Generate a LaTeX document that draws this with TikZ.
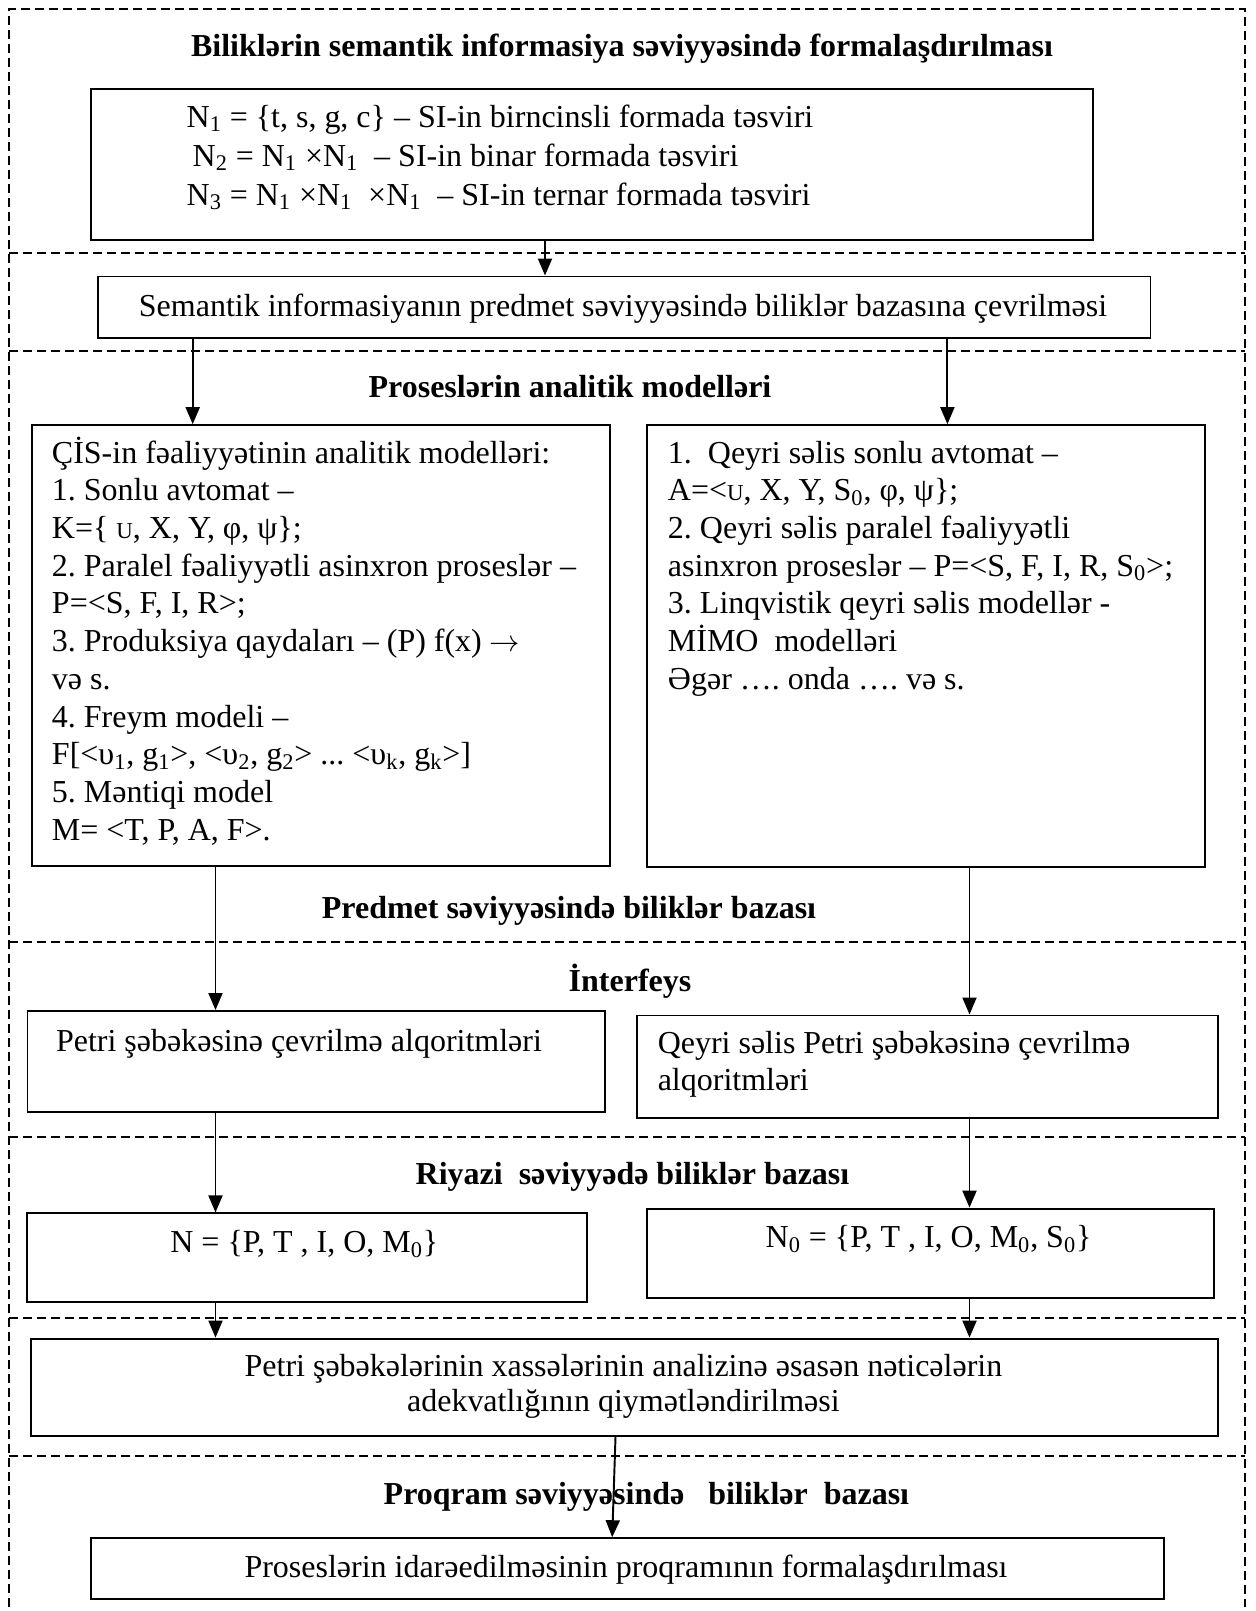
\documentclass[tikz,border=0pt]{standalone}
\usepackage{fontspec}
\setmainfont{Liberation Serif}
\usetikzlibrary{arrows.meta}
\newcommand{\smu}{{\fontsize{13}{13}\selectfont U}}
\frenchspacing
\begin{document}
\begin{tikzpicture}[line width=1.1pt,
    blok/.style={draw, inner sep=0pt, anchor=north west},
    txt/.style={font=\fontsize{18.2}{21.45}\selectfont, inner sep=0pt, align=left, anchor=base west},
    ctxt/.style={font=\fontsize{18.2}{21.45}\selectfont, inner sep=0pt, align=center, anchor=base},
    ttl/.style={font=\fontsize{18.2}{21.45}\selectfont\bfseries, inner sep=0pt, anchor=base},
    sep/.style={dash pattern=on 0.18cm off 0.1cm},
    arr/.style={-{Triangle[length=0.34cm,width=0.28cm]}}]
  \useasboundingbox (0,0) rectangle (25.12,-32.22);
  % Dashed frame and level separators
  \draw[sep] (0.18,-32.13) -- (0.18,-0.172) -- (24.892,-0.172) -- (24.892,-32.13);
  \foreach \y in {-5.062,-7.024,-18.844,-22.744,-26.368,-29.124}
    \draw[sep] (0.18,\y) -- (24.892,\y);
  % Level titles
  \node[ttl] (h1) at (12.44,-1.136) {Biliklərin semantik informasiya səviyyəsində formalaşdırılması};
  \node[ttl] (h2) at (11.4,-7.954) {Proseslərin analitik modelləri};
  \node[ttl] (h3) at (11.38,-18.376) {Predmet səviyyəsində biliklər bazası};
  \node[ttl] (h4) at (12.6,-19.82) {İnterfeys};
  \node[ttl] (h5) at (12.65,-23.688) {Riyazi\ \ səviyyədə biliklər bazası};
  \node[ttl] (h6) at (12.928,-30.08) {Proqram səviyyəsində\ \ \ biliklər\ \ bazası};
  % Boxes
  \node[blok, minimum width=20.05cm, minimum height=3.016cm] (b1) at (1.796,-1.756) {};
  \node[blok, minimum width=21.048cm, minimum height=1.226cm] (b2) at (1.942,-5.51) {};
  \node[blok, minimum width=11.568cm, minimum height=8.824cm] (b3) at (0.612,-8.484) {};
  \node[blok, minimum width=11.16cm, minimum height=8.844cm] (b4) at (12.916,-8.484) {};
  \node[blok, minimum width=11.55cm, minimum height=2.018cm] (b5) at (0.53,-20.2) {};
  \node[blok, minimum width=11.624cm, minimum height=2.044cm] (b6) at (12.712,-20.29) {};
  \node[blok, minimum width=11.2cm, minimum height=1.764cm] (b7) at (0.514,-24.248) {};
  \node[blok, minimum width=11.338cm, minimum height=1.792cm] (b8) at (12.916,-24.152) {};
  \node[blok, minimum width=23.74cm, minimum height=1.948cm] (b9) at (0.596,-26.752) {};
  \node[blok, minimum width=21.464cm, minimum height=1.216cm] (b10) at (1.796,-30.744) {};
  % Box texts (multi-line ones sit on the baseline of their last line)
  \node[txt, font=\fontsize{18.2}{22.1}\selectfont] (t1) at (3.714,-4.101)
    {N\textsubscript{1} = \{t, s, g, c\} – SI-in birncinsli formada təsviri\\
     \hspace{0.12cm}N\textsubscript{2} = N\textsubscript{1} ×N\textsubscript{1}\ \ – SI-in binar formada təsviri\\
     N\textsubscript{3} = N\textsubscript{1} ×N\textsubscript{1}\ \ ×N\textsubscript{1}\ \ – SI-in ternar formada təsviri};
  \node[ctxt] (t2) at (12.46,-6.32)
    {Semantik informasiyanın predmet səviyyəsində biliklər bazasına çevrilməsi};
  \node[txt] (t3) at (1.02,-16.803)
    {ÇİS-in fəaliyyətinin analitik modelləri:\\
     1. Sonlu avtomat –\\
     K=\{ \smu, X, Y, φ, ψ\};\\
     2. Paralel fəaliyyətli asinxron proseslər –\\
     P=<S, F, I, R>;\\
     3. Produksiya qaydaları – (P) f(x) $\rightarrow$\\
     və s.\\
     4. Freym modeli –\\
     F[<υ\textsubscript{1}, g\textsubscript{1}>, <υ\textsubscript{2}, g\textsubscript{2}> ... <υ\textsubscript{k}, g\textsubscript{k}>]\\
     5. Məntiqi model\\
     M= <T, P, A, F>.};
  \node[txt] (t4) at (13.34,-13.787)
    {1.\ \ Qeyri səlis sonlu avtomat –\\
     A=<\smu, X, Y, S\textsubscript{0}, φ, ψ\};\\
     2. Qeyri səlis paralel fəaliyyətli\\
     asinxron proseslər – P=<S, F, I, R, S\textsubscript{0}>;\\
     3. Linqvistik qeyri səlis modellər -\\
     MİMO\ \ modelləri\\
     Əgər …. onda …. və s.};
  \node[txt] (t5) at (1.102,-21.028) {Petri şəbəkəsinə çevrilmə alqoritmləri};
  \node[txt] (t6) at (13.136,-21.814) {Qeyri səlis Petri şəbəkəsinə çevrilmə\\alqoritmləri};
  \node[ctxt] (t7) at (6.086,-25.056) {N = \{P, T , I, O, M\textsubscript{0}\}};
  \node[ctxt] (t8) at (18.572,-24.952) {N\textsubscript{0} = \{P, T , I, O, M\textsubscript{0}, S\textsubscript{0}\}};
  \node[ctxt, font=\fontsize{18.2}{20.4}\selectfont] (t9) at (12.468,-28.238)
    {Petri şəbəkələrinin xassələrinin analizinə əsasən nəticələrin\\
     adekvatlığının qiymətləndirilməsi};
  \node[ctxt] (t10) at (12.52,-31.552) {Proseslərin idarəedilməsinin proqramının formalaşdırılması};
  % Arrow columns
  \coordinate (xa) at (10.9,0);
  \coordinate (xb) at (3.854,0);
  \coordinate (xc) at (18.948,0);
  \coordinate (xl) at (4.31,0);
  \coordinate (xr) at (19.39,0);
  \coordinate (xm) at (12.31,0);
  \coordinate (xn) at (12.244,0);
  % Connectors
  \draw[arr] (b1.south -| xa) -- (b2.north -| xa);
  \draw[arr] (b2.south -| xb) -- (b3.north -| xb);
  \draw[arr] (b2.south -| xc) -- (b4.north -| xc);
  \draw[arr] (b3.south -| xl) -- (b5.north -| xl);
  \draw[arr] (b4.south -| xr) -- (b6.north -| xr);
  \draw[arr] (b5.south -| xl) -- (b7.north -| xl);
  \draw[arr] (b6.south -| xr) -- (b8.north -| xr);
  \draw[arr] (b7.south -| xl) -- (b9.north -| xl);
  \draw[arr] (b8.south -| xr) -- (b9.north -| xr);
  \draw[arr] (b9.south -| xm) -- (b10.north -| xn);
\end{tikzpicture}
\end{document}
